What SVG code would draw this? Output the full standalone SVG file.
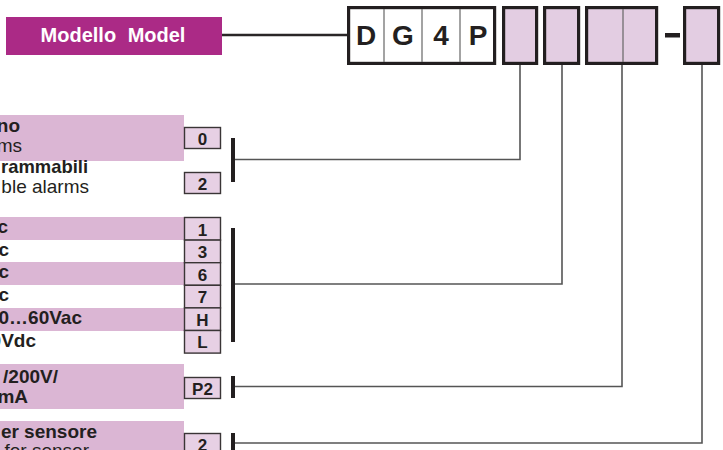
<svg xmlns="http://www.w3.org/2000/svg" width="723" height="450" viewBox="0 0 723 450">
<style>
text{font-family:"Liberation Sans",Arial,sans-serif;fill:#231f20}
.lb{font-size:19px;font-weight:bold;text-anchor:end}
.lr{font-size:19px;text-anchor:end}
.band{fill:#dbb6d4}
.opt{fill:#e7d0e4;stroke:#3a3536;stroke-width:1.4}
.ot{font-size:17px;font-weight:bold;text-anchor:middle}
.bar{fill:#231f20}
.conn{fill:none;stroke:#555;stroke-width:1.6}
.cell{fill:#fff;stroke:#231f20;stroke-width:3.2}
.pcell{fill:#e3cde2;stroke:#231f20;stroke-width:3.2}
.div{stroke:#666;stroke-width:1.2}
.code{font-size:28px;font-weight:bold;text-anchor:middle}
</style>
<rect width="723" height="450" fill="#fff"/>

<g id="model">
<rect x="6" y="17" width="216" height="38" fill="#ab2a86"/>
<text x="113" y="42" text-anchor="middle" style="font-size:20px;font-weight:bold;fill:#fff;word-spacing:6px">Modello Model</text>
</g>

<g id="code">
<rect class="cell" x="348.6" y="7.6" width="146" height="55.8"/>
<line class="div" x1="384" y1="9" x2="384" y2="62"/>
<line class="div" x1="422" y1="9" x2="422" y2="62"/>
<line class="div" x1="460" y1="9" x2="460" y2="62"/>
<text class="code" x="366" y="45">D</text>
<text class="code" x="403" y="45">G</text>
<text class="code" x="441" y="45">4</text>
<text class="code" x="478" y="45">P</text>
</g>
<g id="slot1"><rect class="pcell" x="503.6" y="7.6" width="33" height="55.8"/></g>
<g id="slot2"><rect class="pcell" x="544.6" y="7.6" width="34" height="55.8"/></g>
<g id="slot3"><rect class="pcell" x="586.6" y="7.6" width="70" height="55.8"/><line class="div" x1="623" y1="9" x2="623" y2="62"/></g>
<rect x="665" y="33" width="15" height="4.5" fill="#231f20"/>
<g id="slot4"><rect class="pcell" x="684.6" y="7.6" width="34" height="55.8"/></g>

<g id="connectors">
<line x1="222" y1="35" x2="347" y2="35" stroke="#2a2627" stroke-width="2.6"/>
<polyline class="conn" points="520,65 520,159.5 233,159.5"/>
<polyline class="conn" points="562,65 562,284 233,284"/>
<polyline class="conn" points="622,65 622,386.5 233,386.5"/>
<polyline class="conn" points="702,65 702,443 233,443"/>
<rect class="bar" x="231" y="138" width="4" height="44"/>
<rect class="bar" x="231" y="228" width="4" height="114"/>
<rect class="bar" x="231" y="376" width="4" height="22"/>
<rect class="bar" x="231" y="433" width="4" height="22"/>
</g>

<g id="alarms">
<rect class="band" x="0" y="115" width="184" height="46"/>
<text class="lb" x="20" y="132">no</text>
<text class="lr" x="22" y="152">ms</text>
<rect class="opt" x="184.5" y="127.5" width="36" height="21"/>
<text class="ot" x="202.5" y="144.5">0</text>
<text x="1" y="173" style="font-size:19px;font-weight:bold" textLength="87" lengthAdjust="spacingAndGlyphs">rammabili</text>
<text class="lr" x="89" y="193">ble alarms</text>
<rect class="opt" x="184.5" y="172.5" width="36" height="21"/>
<text class="ot" x="202.5" y="189.5">2</text>
</g>

<g id="supply">
<rect class="band" x="0" y="217" width="184" height="23"/>
<rect class="band" x="0" y="262" width="184" height="23"/>
<rect class="band" x="0" y="308" width="184" height="23"/>
<text class="lb" x="8" y="233">c</text>
<text class="lb" x="9" y="256">c</text>
<text class="lb" x="9" y="278">c</text>
<text class="lb" x="9" y="301">c</text>
<text class="lb" x="82" y="324">0…60Vac</text>
<text class="lb" x="36" y="347">0Vdc</text>
<rect class="opt" x="184.5" y="217.5" width="36" height="22.6"/>
<rect class="opt" x="184.5" y="240.1" width="36" height="22.6"/>
<rect class="opt" x="184.5" y="262.7" width="36" height="22.6"/>
<rect class="opt" x="184.5" y="285.3" width="36" height="22.6"/>
<rect class="opt" x="184.5" y="307.9" width="36" height="22.6"/>
<rect class="opt" x="184.5" y="330.5" width="36" height="22.6"/>
<text class="ot" x="202.5" y="235.5">1</text>
<text class="ot" x="202.5" y="258">3</text>
<text class="ot" x="202.5" y="280.5">6</text>
<text class="ot" x="202.5" y="303">7</text>
<text class="ot" x="202.5" y="325.5">H</text>
<text class="ot" x="202.5" y="348">L</text>
</g>

<g id="input">
<rect class="band" x="0" y="364" width="184" height="45"/>
<text class="lb" x="58" y="383">/200V/</text>
<text class="lb" x="28" y="403">mA</text>
<rect class="opt" x="184.5" y="377.5" width="36" height="21"/>
<text class="ot" x="202.5" y="394.5">P2</text>
</g>

<g id="sensor">
<rect class="band" x="0" y="421" width="184" height="40"/>
<text class="lb" x="97" y="438">er sensore</text>
<text class="lr" x="89" y="457">for sensor</text>
<rect class="opt" x="184.5" y="433.5" width="36" height="21"/>
<text class="ot" x="202.5" y="450.5">2</text>
</g>
</svg>
